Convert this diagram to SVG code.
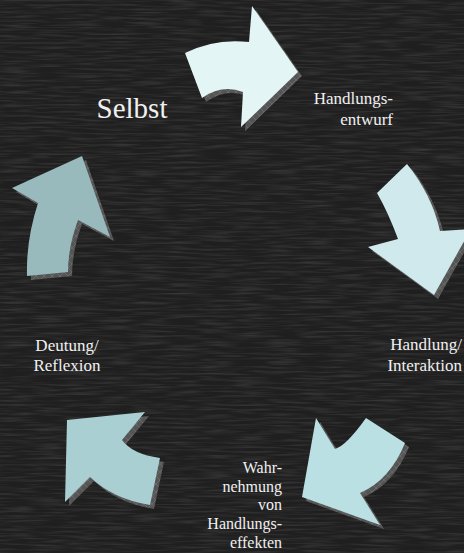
<svg xmlns="http://www.w3.org/2000/svg" xmlns:xlink="http://www.w3.org/1999/xlink" width="464" height="553" viewBox="0 0 464 553">
<defs>
<style>
.shadow{fill:url(#hatch);}
</style>
<pattern id="hatch" width="8" height="8" patternUnits="userSpaceOnUse">
<rect width="8" height="8" fill="#555"/>
<path d="M0,0 L8,8 M8,0 L0,8" stroke="#777" stroke-width="0.6"/>
</pattern>
<filter id="chalk" x="0" y="0" width="100%" height="100%">
<feTurbulence type="fractalNoise" baseFrequency="0.03 0.45" numOctaves="2" seed="5" result="n"/>
<feColorMatrix in="n" type="matrix" values="0 0 0 0 1  0 0 0 0 1  0 0 0 0 1  1 0 0 0 -0.4"/>
</filter>
<path id="a1" d="M185,53 Q215,38 249,42 L252,6 L298,72 L241,127 L243,92 Q222,84 202,98 Z"/>
<path id="a2" d="M407,164 Q432,195 440,231 L471,229 L434,295 L368,247 L398,239 Q388,212 377,193 Z"/>
<path id="a3" d="M316,418 L335,449 Q346,446 366,418 L405,443 Q390,480 360,493 L380,525 L302,497 Z"/>
<path id="a4" d="M67,420 L145,412 L122,440 Q132,454 160,458 L150,505 Q113,499 90,477 L65,502 Z"/>
<path id="a5" d="M82,156 L110,237 L78,220 Q68,247 68,272 L27,276 Q26,240 38,203 L12,188 Z"/>
</defs>
<rect width="464" height="553" fill="#1f1f1f"/>
<rect width="464" height="553" filter="url(#chalk)" opacity="0.22"/>
<g id="connectors">
<g id="arrow-1"><use xlink:href="#a1" class="shadow" transform="translate(4,4)"/><use xlink:href="#a1" fill="#e3f5f5"/></g>
<g id="arrow-2"><use xlink:href="#a2" class="shadow" transform="translate(4,4)"/><use xlink:href="#a2" fill="#cfe9ec"/></g>
<g id="arrow-3"><use xlink:href="#a3" class="shadow" transform="translate(4,4)"/><use xlink:href="#a3" fill="#bae0e4"/></g>
<g id="arrow-4"><use xlink:href="#a4" class="shadow" transform="translate(4,4)"/><use xlink:href="#a4" fill="#a9cfd3"/></g>
<g id="arrow-5"><use xlink:href="#a5" class="shadow" transform="translate(4,4)"/><use xlink:href="#a5" fill="#98babd"/></g>
</g>
<g id="labels" font-family="Liberation Serif, Times New Roman, serif" fill="#f0f0f0">
<g id="node-selbst"><text x="132" y="118" font-family="Liberation Serif" font-size="29" text-anchor="middle">Selbst</text></g>
<g id="node-handlungsentwurf"><text font-family="Liberation Serif" font-size="17" text-anchor="end"><tspan x="393" y="104">Handlungs-</tspan><tspan x="393" y="125">entwurf</tspan></text></g>
<g id="node-handlung"><text font-family="Liberation Serif" font-size="17" text-anchor="end"><tspan x="462" y="350">Handlung/</tspan><tspan x="462" y="371">Interaktion</tspan></text></g>
<g id="node-wahrnehmung"><text font-family="Liberation Serif" font-size="16" text-anchor="end"><tspan x="282" y="473">Wahr-</tspan><tspan x="282" y="492">nehmung</tspan><tspan x="282" y="510">von</tspan><tspan x="282" y="529">Handlungs-</tspan><tspan x="282" y="548">effekten</tspan></text></g>
<g id="node-deutung"><text font-family="Liberation Serif" font-size="17" text-anchor="middle"><tspan x="67" y="351">Deutung/</tspan><tspan x="67" y="371">Reflexion</tspan></text></g>
</g>
</svg>
